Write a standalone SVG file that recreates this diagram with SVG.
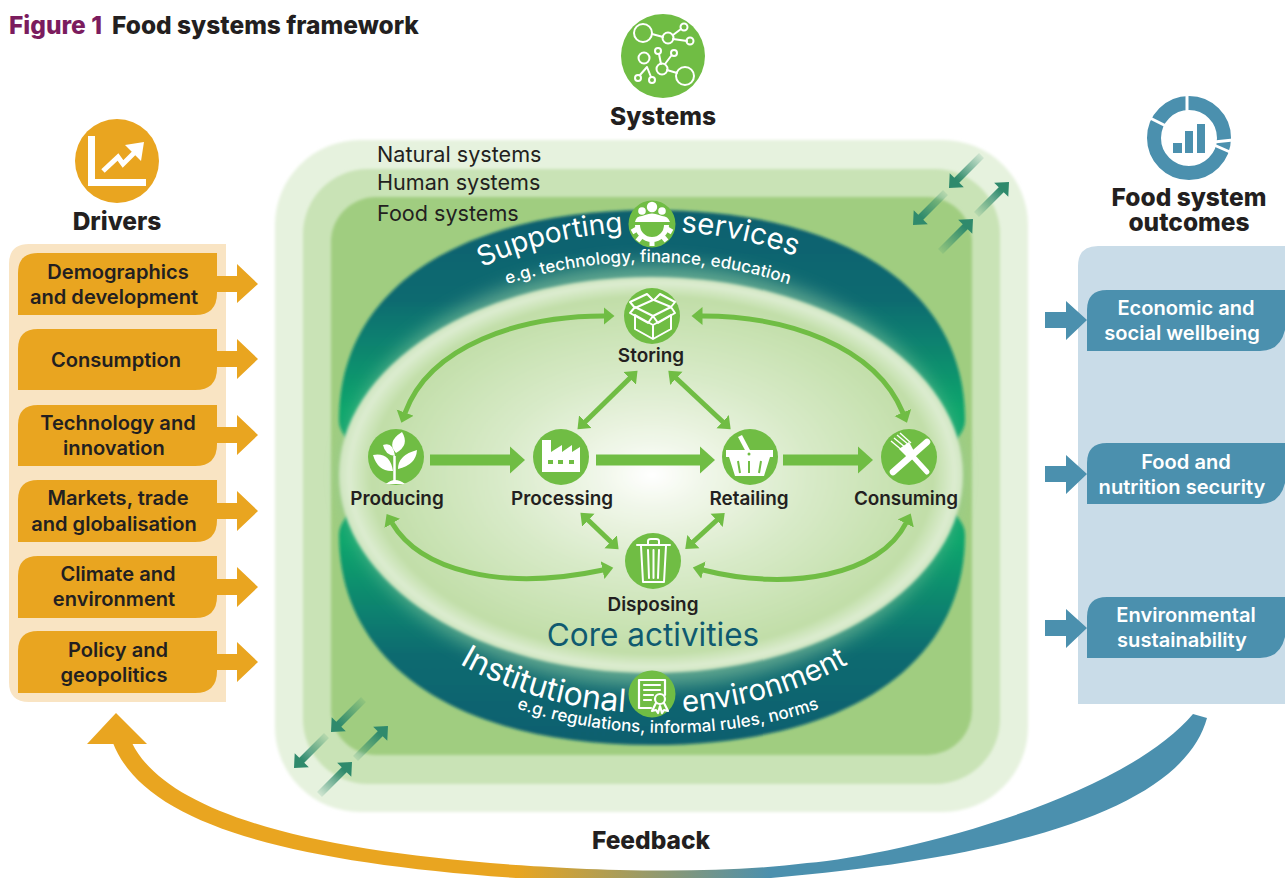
<svg xmlns="http://www.w3.org/2000/svg" xmlns:xlink="http://www.w3.org/1999/xlink" width="1285" height="878" viewBox="0 0 1285 878">
<style>
text{font-family:"Inter","Roboto","Liberation Sans",sans-serif;fill:#231f20}
.h{font-size:24.5px;font-weight:800;text-anchor:middle}
.t{font-size:24.5px;font-weight:800}
.b{font-size:20.1px;font-weight:600;text-anchor:middle}
.n{font-size:18.9px;font-weight:600;text-anchor:middle}
.s{font-size:21.6px;font-weight:400}
.arc{font-size:29.5px;font-weight:400;fill:#fff}
.sub{font-size:17px;font-weight:500;fill:#fff;text-anchor:middle}
.or{fill:#e9a520}.bl{fill:#4b90ae}.gr{fill:#70bd44}
.ln{fill:none;stroke:#70bd44;stroke-width:5;marker-start:url(#hs);marker-end:url(#hs)}
.big{fill:none;stroke:#70bd44;stroke-width:11;marker-end:url(#hb)}
.ws{fill:none;stroke:#fff;stroke-width:2;stroke-linecap:round;stroke-linejoin:round}
.wf{fill:#fff}
</style>
<defs>
<marker id="hs" markerUnits="userSpaceOnUse" markerWidth="12" markerHeight="20" refX="0.5" refY="10" orient="auto-start-reverse"><path d="M0 1L11 10L0 19Z" fill="#70bd44"/></marker>
<marker id="hb" markerUnits="userSpaceOnUse" markerWidth="16" markerHeight="30" refX="0.5" refY="15" orient="auto"><path d="M0 1L15.5 15L0 29Z" fill="#70bd44"/></marker>
<linearGradient id="tealT" gradientUnits="userSpaceOnUse" x1="0" y1="212" x2="0" y2="430"><stop offset="0" stop-color="#0c5f6e"/><stop offset=".4" stop-color="#0d6a70"/><stop offset=".9" stop-color="#0ca56c"/></linearGradient>
<linearGradient id="tealB" gradientUnits="userSpaceOnUse" x1="0" y1="745" x2="0" y2="520"><stop offset="0" stop-color="#0c5f6e"/><stop offset=".4" stop-color="#0d6a70"/><stop offset=".9" stop-color="#0ca56c"/></linearGradient>
<radialGradient id="core" gradientUnits="userSpaceOnUse" cx="0" cy="0" r="1" gradientTransform="translate(652 475) scale(312 198)"><stop offset="0" stop-color="#fff"/><stop offset=".16" stop-color="#f1f7ea"/><stop offset=".5" stop-color="#d8eac8"/><stop offset=".9" stop-color="#c1dea8"/><stop offset=".97" stop-color="#dcecd0"/><stop offset="1" stop-color="#cfe5c0"/></radialGradient>
<linearGradient id="fb" gradientUnits="userSpaceOnUse" x1="516" y1="0" x2="771" y2="0"><stop offset="0" stop-color="#e9a520"/><stop offset="1" stop-color="#4b90ae"/></linearGradient>
<linearGradient id="fade"><stop offset="0" stop-color="#2f8a6c" stop-opacity=".12"/><stop offset=".75" stop-color="#2f8a6c"/></linearGradient>
<filter id="soft" x="-5%" y="-5%" width="110%" height="110%"><feGaussianBlur stdDeviation="1.4"/></filter>
<filter id="glow" x="-10%" y="-10%" width="120%" height="120%"><feGaussianBlur stdDeviation="10"/></filter>
<polygon id="da" points="-46,-3.5 -11,-3.5 -11,-10 0,0 -11,10 -11,3.5 -46,3.5" fill="url(#fade)"/>
<path id="pTop" d="M340 456A312 225 0 0 1 964 456"/>
<path id="pTopS" d="M336 469A312 207 0 0 1 960 469"/>
<path id="pBot" d="M342 487A312 226 0 0 0 966 487"/>
<path id="pBotS" d="M356 536A312 197 0 0 0 980 536"/>
</defs>
<rect width="1285" height="878" fill="#fff"/>
<text class="t" x="9" y="34" style="fill:#7b1c5e">Figure 1</text>
<text class="t" x="112" y="34">Food systems framework</text>

<g id="systems-frame">
<rect x="275" y="140" width="753" height="672" rx="85" fill="#e6f2de" filter="url(#soft)"/>
<rect x="303" y="169" width="697" height="615" rx="65" fill="#c9e3b6" filter="url(#soft)"/>
<rect x="331" y="197" width="641" height="558" rx="45" fill="#a0cd80" filter="url(#soft)"/>
<text class="s" x="377" y="162">Natural systems</text>
<text class="s" x="377" y="190">Human systems</text>
<text class="s" x="377" y="221">Food systems</text>
</g>
<g id="flow-arrows">
<use href="#da" transform="translate(949 188) rotate(135)"/>
<use href="#da" transform="translate(913 225) rotate(135)"/>
<use href="#da" transform="translate(1009 182) rotate(-45)"/>
<use href="#da" transform="translate(973 219) rotate(-45)"/>
<use href="#da" transform="translate(331 732) rotate(135)"/>
<use href="#da" transform="translate(294 768) rotate(135)"/>
<use href="#da" transform="translate(352 762) rotate(-45)"/>
<use href="#da" transform="translate(388 726) rotate(-45)"/>
</g>
<g id="rings">
<path d="M339 420C339 290 458 210 652 210C846 210 965 290 965 420C965 470 800 500 652 500C500 500 339 470 339 420Z" fill="url(#tealT)" filter="url(#soft)"/>
<path d="M339 535C339 665 458 745 652 745C846 745 965 665 965 535C965 485 800 455 652 455C500 455 339 485 339 535Z" fill="url(#tealB)" filter="url(#soft)"/>
<ellipse cx="651" cy="475" rx="306" ry="210" fill="#8cc8a0" opacity=".7" filter="url(#glow)"/>
<ellipse cx="651" cy="475" rx="312" ry="198" fill="url(#core)" filter="url(#soft)"/>
<text class="arc" style="font-size:28px"><textPath href="#pTop" startOffset="46.6%" text-anchor="end">Supporting</textPath></text>
<text class="arc"><textPath href="#pTop" startOffset="53.4%">services</textPath></text>
<text class="sub"><textPath href="#pTopS" startOffset="50%">e.g. technology, finance, education</textPath></text>
<text class="arc" style="font-size:32px"><textPath href="#pBot" startOffset="46.6%" text-anchor="end">Institutional</textPath></text>
<text class="arc"><textPath href="#pBot" startOffset="53.4%">environment</textPath></text>
<text class="sub"><textPath href="#pBotS" startOffset="50%">e.g. regulations, informal rules, norms</textPath></text>
<text x="653" y="646" style="font-size:31.5px;font-weight:400;fill:#0f5a70;text-anchor:middle">Core activities</text>
</g>

<g id="connectors">
<path class="ln" d="M604 316C520 316 430 345 405 413"/>
<path class="ln" d="M702 316C785 316 875 345 903 413"/>
<path class="ln" d="M392 523C420 570 500 592 603 570"/>
<path class="ln" d="M703 570C790 592 880 575 906 523"/>
<path class="ln" d="M630 378L585 422"/>
<path class="ln" d="M676 378L723 422"/>
<path class="ln" d="M588 520L611 542"/>
<path class="ln" d="M717 520L693 542"/>
<path class="big" d="M430 460H510"/>
<path class="big" d="M596 460H700"/>
<path class="big" d="M783 460H858"/>
<path d="M1207 718C1185 800 1040 855 771 878Q640 895 516 878C290 862 145 825 113 743L132 743C165 810 300 850 516 865C560 868 700 877 807 863C900 855 1120 800 1193 714Z" fill="url(#fb)"/>
<path class="or" d="M87 744L116 713L147 744Z"/>
<text class="h" x="651" y="849">Feedback</text>
</g>

<g id="node-systems">
<circle class="gr" cx="663" cy="56" r="42"/>
<g class="ws"><path d="M652 34L663 37M673 35L681 29M673 39L687 41M647 67L640 75M647 67L651 77M659 54L661 64M671 56L665 64M667 70L677 73"/>
<circle cx="643" cy="33" r="9"/><circle cx="668" cy="38" r="5.5"/><circle cx="684" cy="27" r="3.5"/><circle cx="690" cy="41" r="3.5"/><circle cx="644" cy="58" r="5.5"/><circle cx="658" cy="51" r="3"/><circle cx="674" cy="53" r="3"/><circle cx="662" cy="69" r="5.5"/><circle cx="685" cy="76" r="9"/><circle cx="638" cy="78" r="3"/><circle cx="652" cy="80" r="3"/></g>
<text class="h" x="663" y="125">Systems</text>
</g>
<g id="node-drivers">
<circle class="or" cx="117" cy="161" r="42"/>
<path class="wf" d="M88 136H95V179H146V186H88Z"/>
<path d="M103 171L118 157L123 164L136 151" fill="none" stroke="#fff" stroke-width="5"/>
<path class="wf" d="M144 142L141 161L125 145Z"/>
<text class="h" x="117" y="230">Drivers</text>
</g>
<g id="driver-panel"><path d="M29 244H226V702H29Q9 702 9 682V264Q9 244 29 244Z" fill="#f9e4c3"/></g>
<g id="driver-1"><path class="or" d="M38 253H217V293Q217 315 195 315H18V273Q18 253 38 253Z"/><path class="or" d="M217 276H237V264L258 284L237 303V292H217Z"/><text class="b"><tspan x="118" y="279">Demographics</tspan><tspan x="114" y="304">and development</tspan></text></g>
<g id="driver-2"><path class="or" d="M38 329H217V368Q217 390 195 390H18V349Q18 329 38 329Z"/><path class="or" d="M217 351H237V339L258 359L237 379V367H217Z"/><text class="b" x="116" y="367">Consumption</text></g>
<g id="driver-3"><path class="or" d="M38 405H217V444Q217 466 195 466H18V425Q18 405 38 405Z"/><path class="or" d="M217 427H237V415L258 435L237 455V443H217Z"/><text class="b"><tspan x="118" y="430">Technology and</tspan><tspan x="114" y="455">innovation</tspan></text></g>
<g id="driver-4"><path class="or" d="M38 480H217V520Q217 542 195 542H18V500Q18 480 38 480Z"/><path class="or" d="M217 503H237V491L258 511L237 531V519H217Z"/><text class="b"><tspan x="118" y="505">Markets, trade</tspan><tspan x="114" y="531">and globalisation</tspan></text></g>
<g id="driver-5"><path class="or" d="M38 556H217V596Q217 618 195 618H18V576Q18 556 38 556Z"/><path class="or" d="M217 579H237V567L258 587L237 607V595H217Z"/><text class="b"><tspan x="118" y="581">Climate and</tspan><tspan x="114" y="606">environment</tspan></text></g>
<g id="driver-6"><path class="or" d="M38 631H217V671Q217 693 195 693H18V651Q18 631 38 631Z"/><path class="or" d="M217 654H237V642L258 662L237 682V670H217Z"/><text class="b"><tspan x="118" y="657">Policy and</tspan><tspan x="114" y="682">geopolitics</tspan></text></g>

<g id="node-outcomes">
<circle cx="1189" cy="138" r="35" fill="none" stroke="#4b90ae" stroke-width="14"/>
<path d="M1187 92V113M1150 118L1166 126M1214 142L1233 140M1214 145L1230 152" stroke="#fff" stroke-width="3" fill="none"/>
<path class="bl" d="M1173 143H1182V153H1173ZM1185 131H1193V153H1185ZM1197 124H1205V153H1197Z"/>
<text class="h"><tspan x="1189" y="206">Food system</tspan><tspan x="1189" y="231">outcomes</tspan></text>
</g>
<g id="outcome-panel"><path d="M1098 246H1285V704H1078V266Q1078 246 1098 246Z" fill="#c9dce8"/></g>
<g id="outcome-1"><path class="bl" d="M1107 290H1285V330Q1280 351 1260 351H1087V310Q1087 290 1107 290Z"/><path class="bl" d="M1045 312H1066V301L1087 320L1066 340V328H1045Z"/><text class="b" style="fill:#fff"><tspan style="fill:#fff" x="1186" y="315">Economic and</tspan><tspan style="fill:#fff" x="1182" y="340">social wellbeing</tspan></text></g>
<g id="outcome-2"><path class="bl" d="M1107 443H1285V483Q1280 504 1260 504H1087V463Q1087 443 1107 443Z"/><path class="bl" d="M1045 466H1066V455L1087 474L1066 494V482H1045Z"/><text class="b" style="fill:#fff"><tspan style="fill:#fff" x="1186" y="469">Food and</tspan><tspan style="fill:#fff" x="1182" y="494">nutrition security</tspan></text></g>
<g id="outcome-3"><path class="bl" d="M1107 597H1285V637Q1280 658 1260 658H1087V617Q1087 597 1107 597Z"/><path class="bl" d="M1045 620H1066V609L1087 628L1066 648V636H1045Z"/><text class="b" style="fill:#fff"><tspan style="fill:#fff" x="1186" y="622">Environmental</tspan><tspan style="fill:#fff" x="1182" y="647">sustainability</tspan></text></g>

<g id="node-supporting">
<circle class="gr" cx="652" cy="224" r="23.5"/>
<circle class="wf" cx="652" cy="207" r="5.2"/><circle class="wf" cx="642" cy="211" r="3.8"/><circle class="wf" cx="662" cy="211" r="3.8"/>
<path class="wf" d="M635 222Q636 216 642 216L645 215Q652 212 659 215L662 216Q668 216 670 222Z"/>
<path d="M637.5 225A14.5 14.5 0 0 0 666.5 225" fill="none" stroke="#fff" stroke-width="5"/>
<path d="M652 238V246M642.5 235L637.5 241M661.5 235L666.5 241M637 229L632 232M667 229L672 232" stroke="#fff" stroke-width="5" fill="none"/>
</g>
<g id="node-storing">
<circle class="gr" cx="652" cy="316" r="28"/>
<g class="ws"><path d="M635 315V329L653 339L671 329V315M653 325V339M635 315L653 325L671 315"/><path d="M630 302L647 294L653 300L635 308ZM654 300L660 294L675 302L671 307ZM630 313L635 307L653 316L648 323ZM653 316L671 307L675 313L658 323Z"/></g>
</g>
<text class="n" x="651" y="362">Storing</text>
<g id="node-producing">
<circle class="gr" cx="396" cy="457" r="28"/>
<path d="M394.5 481V456" stroke="#fff" stroke-width="2.5"/>
<path class="wf" d="M402 432Q410 445 396 453Q386 442 402 432ZM383 445Q393 441 395 456Q385 455 383 445ZM417 450Q416 465 398 469Q398 455 417 450ZM373 455Q390 452 393 471Q378 472 373 455ZM386 484Q395 476 405 484Z"/>
</g>
<text class="n" x="397" y="505">Producing</text>
<g id="node-processing">
<circle class="gr" cx="561" cy="457" r="28"/>
<path class="wf" d="M542 472V440H551V452L562 445V452L572 445V452L580 447V472Z"/>
<path class="gr" d="M548 460H553V464H548ZM558 460H563V464H558ZM569 460H574V464H569Z"/>
</g>
<text class="n" x="562" y="505">Processing</text>
<g id="node-retailing">
<circle class="gr" cx="750" cy="457" r="28"/>
<path d="M740 436L749 453" stroke="#fff" stroke-width="4.5"/>
<path class="wf" d="M726 450H773V457H770L764 476H735L729 457H726Z"/>
<path d="M738 461L740 473M749 461V473M761 461L759 473" stroke="#70bd44" stroke-width="2"/>
<circle class="gr" cx="749" cy="454" r="1.5"/>
</g>
<text class="n" x="749" y="505">Retailing</text>
<g id="node-consuming">
<circle class="gr" cx="909" cy="457" r="28"/>
<path d="M927 442L893 472" stroke="#fff" stroke-width="6.5" stroke-linecap="round"/>
<path d="M906 449L927 472" stroke="#fff" stroke-width="5" stroke-linecap="round"/>
<path d="M891 441L903 451M894 438L906 448M897 435L909 445M900 433L911 443" stroke="#fff" stroke-width="1.4"/>
<path class="wf" d="M899 449L909 442L914 451L907 457Z"/>
</g>
<text class="n" x="906" y="505">Consuming</text>
<g id="node-disposing">
<circle class="gr" cx="653" cy="561" r="28"/>
<g class="ws"><path d="M637 545H670M641 546L643 582H664L666 546M648 550L649 578M653.5 550V578M659 550L658 578M648 544V541Q648 539 651 539H656Q659 539 659 541V544"/></g>
</g>
<text class="n" x="653" y="611">Disposing</text>
<g id="node-institutional">
<circle class="gr" cx="652" cy="694" r="23.5"/>
<g class="ws" style="stroke-width:2.2"><path d="M651 708H639V680H665V695M644 685H660M644 690H660M644 695H653M644 700H651"/><circle cx="660" cy="699" r="5"/><path d="M656 703L652 711L656 710L658 713L660 706M664 703L668 711L664 710L662 713L660 706"/></g>
</g>
</svg>
